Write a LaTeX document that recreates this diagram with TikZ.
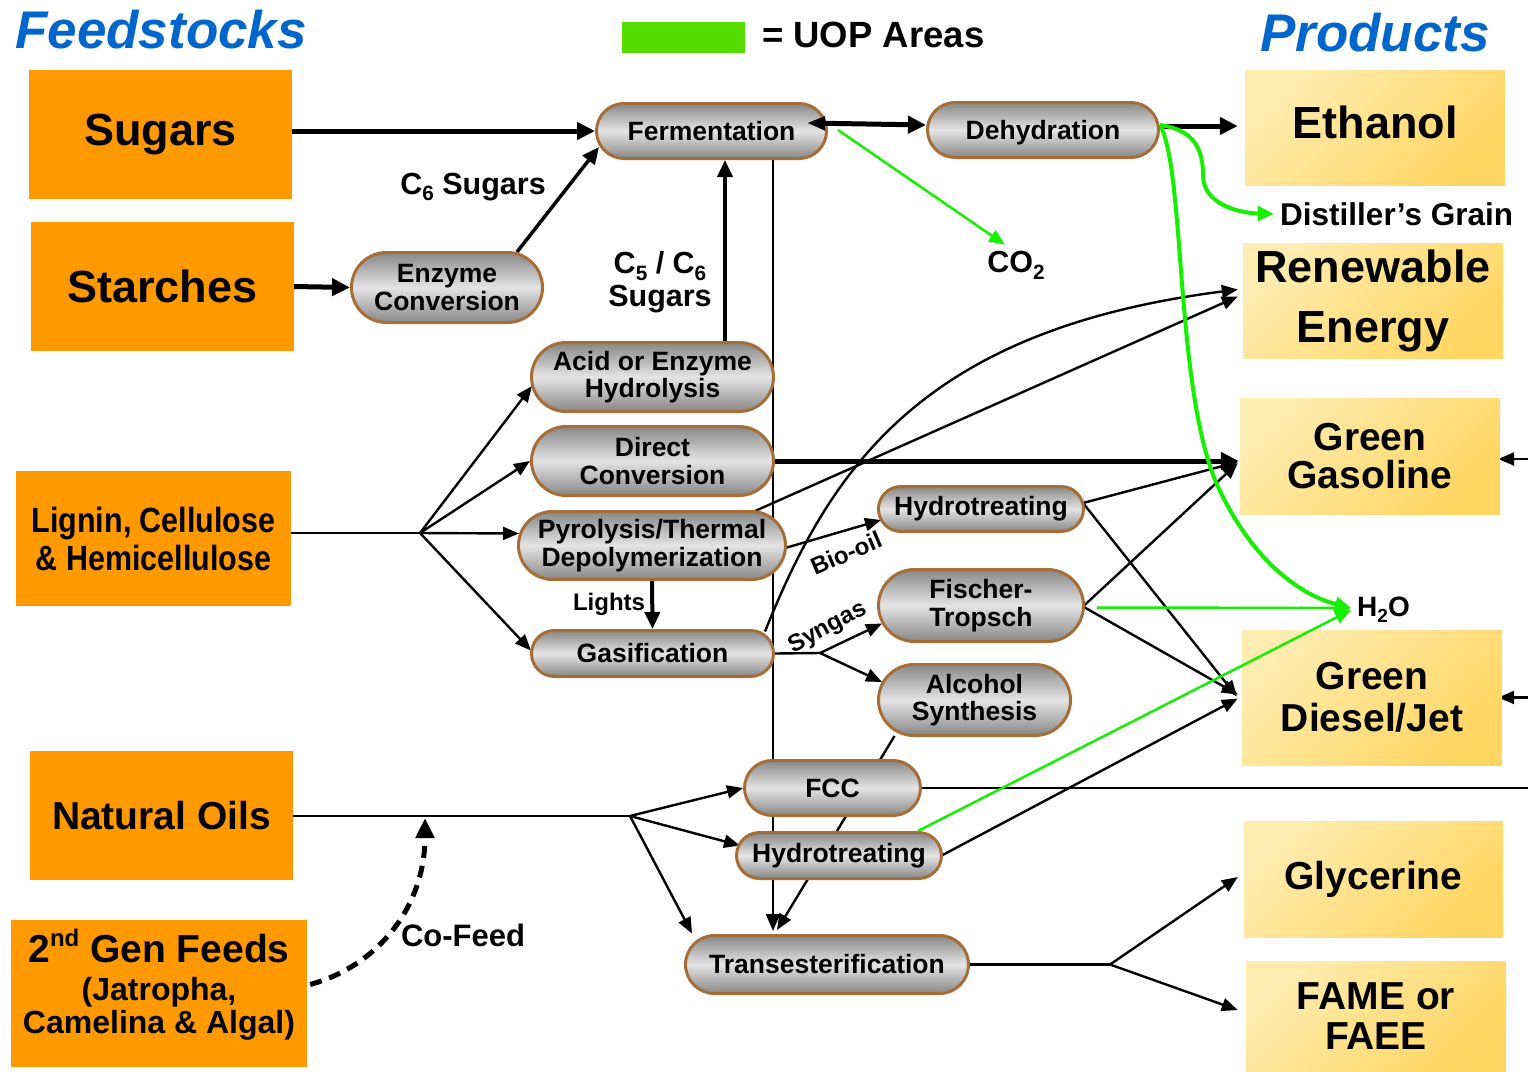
\documentclass[tikz,border=0pt]{standalone}
\usepackage{fontspec}
\setmainfont{Liberation Sans}
\usepackage{graphicx}
\usetikzlibrary{arrows.meta,shapes.misc,calc,backgrounds}

\definecolor{feedorange}{RGB}{255,153,0}
\definecolor{prodlight}{RGB}{255,236,176}
\definecolor{proddark}{RGB}{255,214,98}
\definecolor{procedge}{RGB}{165,110,55}
\definecolor{procdark}{RGB}{135,135,135}
\definecolor{proclight}{RGB}{228,228,228}
\definecolor{titleblue}{RGB}{0,102,204}
\definecolor{flowgreen}{RGB}{20,240,0}
\definecolor{keygreen}{RGB}{85,221,0}

\newcommand{\fsz}[2]{\fontsize{#1}{#2}\selectfont}
\newcommand{\sbs}[1]{\raisebox{-0.22em}{\scalebox{0.68}{#1}}}

\tikzset{
  feedbox/.style={fill=feedorange, inner sep=0pt, align=center},
  prodbox/.style={top color=prodlight, bottom color=proddark, shading angle=45,
    inner sep=0pt, align=center, minimum width=260pt, font=\bfseries\fsz{39}{40}},
  procbox/.style={rounded rectangle, draw=procedge, line width=3pt,
    top color=procdark, bottom color=procdark, middle color=proclight,
    inner sep=0pt, align=center, font=\bfseries\fsz{26.5}{27.5}},
  lbl/.style={inner sep=0pt, align=center, font=\bfseries\fsz{30.5}{33}},
  thinline/.style={line width=2.4pt},
  thinflow/.style={thinline, -{Triangle[length=16pt,width=13pt]}},
  midflow/.style={line width=3.5pt, -{Triangle[length=17pt,width=15pt]}},
  thickflow/.style={line width=5pt, -{Triangle[length=18pt,width=17pt]}},
  vline/.style={line width=2pt, -{Triangle[length=17pt,width=14pt]}},
  greenthin/.style={flowgreen, line width=2.5pt, -{Triangle[length=16pt,width=13pt]}},
  greenthick/.style={flowgreen, line width=4pt, -{Triangle[length=16pt,width=14pt]}},
  cofeed/.style={line width=5pt, dash pattern=on 12pt off 8pt, -{Triangle[length=20pt,width=18pt]}},
}

\begin{document}
\begin{tikzpicture}[x=1pt,y=-1pt]
\useasboundingbox (0,0) rectangle (1528,1071);

% headings and key
\node[anchor=base west, inner sep=0pt, text=titleblue, font=\bfseries\itshape\fsz{53}{53}] (ftitle) at (15,48) {Feedstocks};
\node[anchor=base west, inner sep=0pt, text=titleblue, font=\bfseries\itshape\fsz{53}{53}] (ptitle) at (1260,51) {Products};
\node[fill=keygreen, minimum width=123pt, minimum height=31pt, inner sep=0pt] (key) at (683.5,37.5) {};
\node[anchor=base west, inner sep=0pt, font=\bfseries\fsz{36.5}{36}] (keytext) at (762,47) {= UOP Areas};

% feedstocks
\node[feedbox, minimum width=263pt, minimum height=129pt, font=\bfseries\fsz{45}{48}] (sugars) at (160.5,134.5) {Sugars};
\node[feedbox, minimum width=263pt, minimum height=129pt, font=\bfseries\fsz{45}{48}] (starches) at (162.5,286.5) {Starches};
\node[feedbox, minimum width=275pt, minimum height=135pt, font=\bfseries\fsz{35}{38}] (lignin) at (153.5,538.5)
  {\scalebox{0.87}[1]{Lignin, Cellulose}\\\scalebox{0.87}[1]{\& Hemicellulose}};
\node[feedbox, minimum width=263pt, minimum height=129pt, font=\bfseries\fsz{39}{42}] (oils) at (161.5,815.5) {Natural Oils};
\node[feedbox, minimum width=296pt, minimum height=147pt, font=\bfseries\fsz{32}{33}] (gen2) at (159,993.5)
  {\raisebox{5pt}{\fsz{39}{33}2\raisebox{0.4em}{\fsz{24}{24}nd} Gen Feeds}\\(Jatropha,\\Camelina \& Algal)\\[-8pt]};

% products
\node[prodbox, minimum height=115pt, text depth=10pt, font=\bfseries\fsz{45}{48}] (ethanol) at (1375,127.5) {Ethanol};
\node[prodbox, minimum height=115pt, font=\bfseries\fsz{45}{60}] (renew) at (1373,300.5) {Renewable\\Energy};
\node[prodbox, minimum height=116pt, font=\bfseries\fsz{39}{38}] (gasoline) at (1370,456) {Green\\Gasoline};
\node[prodbox, minimum height=135pt, font=\bfseries\fsz{39}{42}] (diesel) at (1372,697.5) {Green\\Diesel/Jet};
\node[prodbox, minimum width=259pt, minimum height=116pt] (glycerine) at (1373.5,879) {Glycerine};
\node[prodbox, minimum height=110pt, font=\bfseries\fsz{39}{40}] (fame) at (1376,1016) {FAME or\\FAEE};

% processes
\node[procbox, minimum width=230pt, minimum height=55pt] (ferm) at (711.5,131) {Fermentation};
\node[procbox, minimum width=231pt, minimum height=55pt, text height=25pt] (dehyd) at (1043,130) {Dehydration};
\node[procbox, minimum width=191pt, minimum height=70pt] (enzyme) at (447,287.5) {Enzyme\\Conversion};
\node[procbox, minimum width=242pt, minimum height=69pt] (acid) at (652.5,377) {Acid or Enzyme\\Hydrolysis};
\node[procbox, minimum width=242pt, minimum height=69pt] (direct) at (652.5,461) {Direct\\Conversion};
\node[procbox, minimum width=267pt, minimum height=68pt] (pyro) at (652,545.5) {Pyrolysis/Thermal\\Depolymerization};
\node[procbox, minimum width=242pt, minimum height=46pt] (gasif) at (652.5,653.5) {Gasification};
\node[procbox, minimum width=205pt, minimum height=45pt] (hydroA) at (981,509) {Hydrotreating};
\node[procbox, minimum width=205pt, minimum height=72pt] (ft) at (981,605.5) {Fischer-\\Tropsch};
\node[procbox, minimum width=192pt, minimum height=71pt] (alc) at (974.5,700) {Alcohol\\Synthesis};
\node[procbox, minimum width=176pt, minimum height=55pt] (fcc) at (832.5,788) {FCC};
\node[procbox, minimum width=205pt, minimum height=46pt] (hydroB) at (839,855.5) {Hydrotreating};
\node[procbox, minimum width=283pt, minimum height=58pt] (trans) at (827,964.5) {Transesterification};

% stream labels
\node[lbl] (c6lbl) at (473,187) {C\sbs{6} Sugars};
\node[lbl] (c56lbl) at (660,282) {C\sbs{5} / C\sbs{6}\\Sugars};
\node[lbl] (co2) at (1016,265) {CO\sbs{2}};
\node[lbl, anchor=west, font=\bfseries\fsz{31.5}{31}] (grain) at (1280,214) {Distiller’s Grain};
\node[lbl, anchor=west, font=\bfseries\fsz{28}{28}] (h2o) at (1357,610) {H\sbs{2}O};
\node[lbl, font=\bfseries\fsz{24}{24}] (lights) at (609,604) {Lights};
\node[lbl, font=\bfseries\fsz{24}{24}, rotate=23] (biooil) at (846,553) {Bio-oil};
\node[lbl, font=\bfseries\fsz{24}{24}, rotate=28] (syngas) at (828,628) {Syngas};
\node[lbl, font=\bfseries\fsz{31}{31}] (cofeed) at (463,935) {Co-Feed};

% branch points and reference lines
\coordinate (lb) at (420,533);
\coordinate (ob) at (630,816);
\coordinate (sb) at (820,653);
\coordinate (tb) at (1110,965);
\coordinate (cf) at (425,818);
\coordinate (vs) at (725,0);
\coordinate (vx) at (773,0);
\coordinate (edge) at (1528,0);

\begin{scope}[on background layer]
  % sugar routes
  \draw[thickflow] (sugars.east |- ferm.west) -- (ferm.west);
  \draw[thickflow] (starches.east) -- (enzyme.west);
  \draw[midflow] ($(enzyme.north)+(70,1)$) -- ($(ferm.west)+(4,16)$);
  \draw[thickflow] ($(dehyd.east)+(0,-4)$) -- ($(ethanol.west)+(-7,-1.5)$);
  \draw[midflow, line width=4pt] (acid.north -| vs) -- (ferm.south -| vs);
  \draw[vline] (ferm.south -| vx) -- ($(trans.north -| vx)+(0,-3)$);

  % lignocellulosic routes
  \draw[thinline] (lignin.east |- lb) -- (lb);
  \draw[thinflow] (lb) -- ($(acid.west)+(2,9)$);
  \draw[thinflow] (lb) -- (direct.west);
  \draw[thinflow] (lb) -- ($(pyro.west)+(2,-12)$);
  \draw[thinflow] (lb) -- ($(gasif.west)+(1,-3)$);
  \draw[thickflow] (direct.east) -- ($(gasoline.west |- direct.east)+(-1,0)$);
  \draw[thinflow] ($(pyro.north)+(103,1)$) -- ($(renew.west)+(-5,-4)$);
  \draw[thinflow] ($(gasif.east)+(-10,-22)$) .. controls (830,470) and (920,330) .. ($(renew.west)+(-5,-11)$);
  \draw[thinflow] ($(pyro.east)+(0,2)$) -- ($(hydroA.west)+(4,11)$);
  \draw[midflow, line width=4pt] (pyro.south) -- (gasif.north);
  \draw[thinline] (gasif.east) -- (sb);
  \draw[thinflow] (sb) -- ($(ft.west)+(5,18)$);
  \draw[thinflow] (sb) -- ($(alc.west)+(5,-18)$);
  \draw[thinflow] ($(hydroA.east)+(-2,-6)$) -- ($(gasoline.west)+(-2,6)$);
  \draw[thinflow] ($(hydroA.east)+(-2,-6)$) -- ($(diesel.west)+(-5,-1)$);
  \draw[thinflow] ($(ft.east)+(-2,1)$) -- ($(gasoline.west)+(-2,7)$);
  \draw[thinflow] ($(ft.east)+(-2,1)$) -- ($(diesel.west)+(-4,-3)$);
  \draw[thinflow] ($(alc.south)+(-80,-1)$) -- ($(trans.north)+(-50,-4)$);

  % oil routes
  \draw[thinline] (oils.east |- ob) -- (ob);
  \draw[thinflow] (ob) -- (fcc.west);
  \draw[thinflow] (ob) -- ($(hydroB.west)+(5,-10)$);
  \draw[thinflow] (ob) -- ($(trans.west)+(8,-31)$);
  \draw[thinline] (fcc.east) -- (fcc.east -| edge);
  \draw[thinflow] ($(hydroB.east)+(-7,3)$) -- ($(diesel.west)+(-4,1)$);
  \draw[thinline] (trans.east) -- (trans.east -| tb);
  \draw[thinflow] (trans.east -| tb) -- ($(glycerine.west)+(-6,-2)$);
  \draw[thinflow] (trans.east -| tb) -- ($(fame.west)+(-8,-6)$);
  \draw[cofeed] ($(gen2.east)+(3,-9)$) .. controls (380,965) and (425,905) .. (cf);

  % streams entering from the right
  \draw[thinflow] ($(gasoline.east -| edge)+(0,3)$) -- ($(gasoline.east)+(-2,3)$);
  \draw[thinflow] (diesel.east -| edge) -- ($(diesel.east)+(-4,0)$);

  % by-product streams
  \draw[greenthin] ($(ferm.east)+(10,-1)$) -- ($(co2.north)+(-11,-6)$);
  \draw[greenthin] ($(ft.east)+(12,2)$) -- ($(h2o.west)+(-6,-2)$);
  \draw[greenthick] ($(dehyd.east)+(0,-5)$) .. controls (1195,130) and (1203,150) .. (1203,175)
    .. controls (1203,205) and (1240,213) .. ($(grain.west)+(-6,0)$);
  \draw[greenthick] ($(dehyd.east)+(0,-5)$) .. controls (1185,170) and (1175,380) .. (1215,480)
    .. controls (1250,560) and (1300,595) .. ($(h2o.west)+(-6,-2)$);
\end{scope}

% water from the lower hydrotreater, crossing the diesel box corner
\draw[greenthin] ($(hydroB.north)+(79,0)$) -- ($(h2o.west)+(-6,0)$);

% recycle between fermentation and dehydration
\draw[line width=5pt, {Triangle[length=18pt,width=13pt]}-{Triangle[length=18pt,width=17pt]}]
  ($(ferm.east)+(-21,-8)$) -- ($(dehyd.west)+(0,-5)$);
\end{tikzpicture}
\end{document}
